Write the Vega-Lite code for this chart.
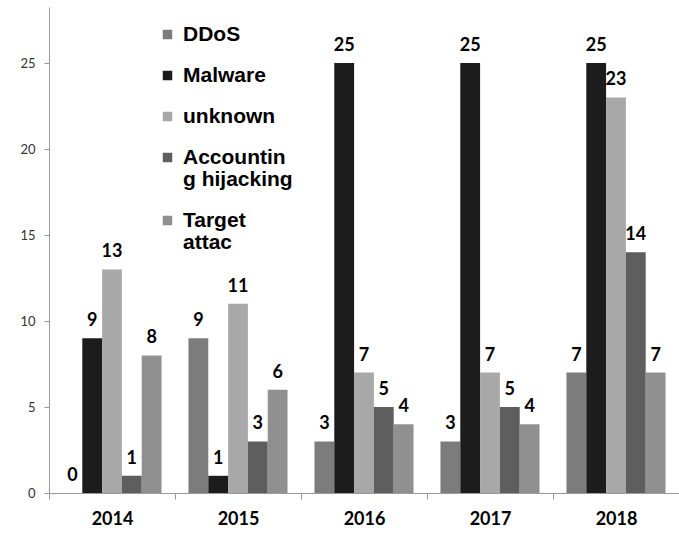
{
  "$schema": "https://vega.github.io/schema/vega-lite/v6.json",
  "width": 630,
  "height": 486,
  "autosize": {"type": "none"},
  "padding": {"left": 49, "top": 7, "right": 0, "bottom": 46},
  "background": "white",
  "config": {"view": {"stroke": null}},
  "data": {
    "values": [
      {"year": "2014", "type": "DDoS", "value": 0},
      {"year": "2014", "type": "Malware", "value": 9},
      {"year": "2014", "type": "unknown", "value": 13},
      {"year": "2014", "type": "Accounting hijacking", "value": 1},
      {"year": "2014", "type": "Target attac", "value": 8},
      {"year": "2015", "type": "DDoS", "value": 9},
      {"year": "2015", "type": "Malware", "value": 1},
      {"year": "2015", "type": "unknown", "value": 11},
      {"year": "2015", "type": "Accounting hijacking", "value": 3},
      {"year": "2015", "type": "Target attac", "value": 6},
      {"year": "2016", "type": "DDoS", "value": 3},
      {"year": "2016", "type": "Malware", "value": 25},
      {"year": "2016", "type": "unknown", "value": 7},
      {"year": "2016", "type": "Accounting hijacking", "value": 5},
      {"year": "2016", "type": "Target attac", "value": 4},
      {"year": "2017", "type": "DDoS", "value": 3},
      {"year": "2017", "type": "Malware", "value": 25},
      {"year": "2017", "type": "unknown", "value": 7},
      {"year": "2017", "type": "Accounting hijacking", "value": 5},
      {"year": "2017", "type": "Target attac", "value": 4},
      {"year": "2018", "type": "DDoS", "value": 7},
      {"year": "2018", "type": "Malware", "value": 25},
      {"year": "2018", "type": "unknown", "value": 23},
      {"year": "2018", "type": "Accounting hijacking", "value": 14},
      {"year": "2018", "type": "Target attac", "value": 7}
    ]
  },
  "encoding": {
    "x": {
      "field": "year",
      "type": "nominal",
      "scale": {"paddingInner": 0, "paddingOuter": 0},
      "axis": {
        "title": null,
        "labelAngle": 0,
        "labelFont": "Lato",
        "labelFontSize": 18,
        "labelFontWeight": "bold",
        "labelColor": "#000000",
        "labelPadding": 11,
        "tickBand": "extent",
        "tickSize": 6,
        "tickColor": "#999999",
        "domainColor": "#999999"
      }
    },
    "xOffset": {
      "field": "type",
      "sort": ["DDoS", "Malware", "unknown", "Accounting hijacking", "Target attac"],
      "scale": {"paddingInner": 0, "paddingOuter": 0.68}
    },
    "y": {
      "field": "value",
      "type": "quantitative",
      "scale": {"domain": [0, 28.26], "nice": false},
      "axis": {
        "title": null,
        "values": [0, 5, 10, 15, 20, 25],
        "grid": false,
        "ticks": true,
        "tickSize": 5,
        "tickColor": "#999999",
        "labelPadding": 9,
        "labelFont": "Lato",
        "labelFontSize": 13,
        "labelColor": "#333333",
        "domainColor": "#999999"
      }
    }
  },
  "layer": [
    {
      "mark": {"type": "bar"},
      "encoding": {
        "color": {
          "field": "type",
          "type": "nominal",
          "sort": ["DDoS", "Malware", "unknown", "Accounting hijacking", "Target attac"],
          "scale": {
            "domain": ["DDoS", "Malware", "unknown", "Accounting hijacking", "Target attac"],
            "range": ["#7c7c7c", "#1c1c1c", "#a8a8a8", "#5e5e5e", "#909090"]
          },
          "legend": {
            "title": null,
            "orient": "none",
            "legendX": 108,
            "legendY": 17,
            "padding": 0,
            "symbolType": "square",
            "symbolSize": 90,
            "symbolStrokeWidth": 0,
            "labelFont": "Liberation Sans",
            "labelFontSize": 21,
            "labelFontWeight": "bold",
            "labelColor": "#000000",
            "labelOffset": 5,
            "labelLimit": 300,
            "rowPadding": 19,
            "labelExpr": "datum.label == 'Accounting hijacking' ? ['Accountin', 'g hijacking'] : datum.label == 'Target attac' ? ['Target', 'attac'] : datum.label",
            "encode": {"labels": {"update": {"lineHeight": {"value": 22}}}}
          }
        }
      }
    },
    {
      "mark": {"type": "text", "dy": -12, "baseline": "alphabetic", "font": "Lato", "fontSize": 18, "fontWeight": "bold", "color": "#000000"},
      "encoding": {"text": {"field": "value", "type": "quantitative"}}
    }
  ]
}
